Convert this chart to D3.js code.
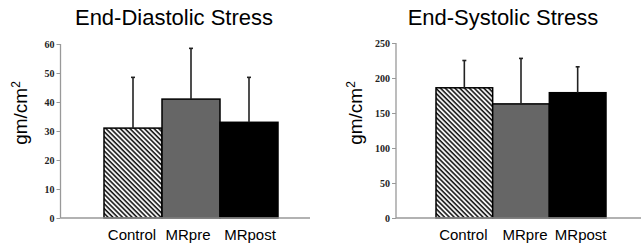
<!DOCTYPE html>
<html>
<head>
<meta charset="utf-8">
<script src="https://cdn.jsdelivr.net/npm/d3@7"></script>
<style>
  body { margin: 0; background: #fff; }
  svg { display: block; }
</style>
</head>
<body>
<div id="chart"></div>
<script>
// values
var groups = ["Control", "MRpre", "MRpost"];
var diastolicMean = [31, 41, 33];
var diastolicErr = [17.5, 17.5, 15.5];
var systolicMean = [186, 163, 179];
var systolicErr = [39, 65, 37];
var diastolicTicks = [0, 10, 20, 30, 40, 50, 60];
var systolicTicks = [0, 50, 100, 150, 200, 250];

var svg = d3.select("#chart").append("svg")
  .attr("width", 642)
  .attr("height", 249);

var defs = svg.append("defs");
defs.append("pattern")
  .attr("id", "hatch")
  .attr("patternUnits", "userSpaceOnUse")
  .attr("width", 3.4)
  .attr("height", 3.4)
  .attr("patternTransform", "rotate(-45)")
  .call(function (p) {
    p.append("rect").attr("width", 3.4).attr("height", 3.4).attr("fill", "#fff");
    p.append("line").attr("x1", 1).attr("y1", 0).attr("x2", 1).attr("y2", 3.4)
      .attr("stroke", "#111").attr("stroke-width", 1.6);
  });

var fills = ["url(#hatch)", "#666", "#000"];

function panel(opt) {
  var g = svg.append("g");

  var y = d3.scaleLinear().domain(opt.domain).range([218, opt.top]);
  var x = d3.scaleBand().domain(groups).range(opt.bars).padding(0);

  // title
  g.append("text")
    .attr("x", opt.titleX).attr("y", 25)
    .attr("text-anchor", "middle")
    .style("font-family", "Liberation Sans, Arial, sans-serif")
    .style("font-size", "22px")
    .text(opt.title);

  // y label
  var yl = g.append("text")
    .attr("transform", "translate(" + opt.labelX + ",113) rotate(-90)")
    .attr("text-anchor", "middle")
    .style("font-family", "Liberation Sans, Arial, sans-serif")
    .style("font-size", "19px");
  yl.append("tspan").text("gm/cm");
  yl.append("tspan").attr("dy", -7).style("font-size", "12px").text("2");

  // y axis
  var yAxis = g.append("g")
    .attr("transform", "translate(" + opt.axisX + ",0)")
    .call(d3.axisLeft(y).tickValues(opt.ticks).tickSize(4).tickPadding(2));
  yAxis.select(".domain").attr("stroke", "#999").attr("stroke-width", 1.3)
    .attr("d", "M0," + y(0) + "V" + y(opt.domain[1]));
  yAxis.selectAll(".tick line").attr("stroke", "#999");
  yAxis.selectAll(".tick text")
    .style("font-family", "Liberation Serif, Times New Roman, serif")
    .style("font-size", "10px")
    .style("font-weight", "bold")
    .attr("fill", "#222");

  // bars
  g.selectAll("rect.bar")
    .data(opt.mean)
    .enter().append("rect")
    .attr("class", "bar")
    .attr("x", function (d, i) { return x(groups[i]); })
    .attr("y", function (d) { return y(d); })
    .attr("width", x.bandwidth())
    .attr("height", function (d) { return y(0) - y(d); })
    .attr("fill", function (d, i) { return fills[i]; })
    .attr("stroke", "#000")
    .attr("stroke-width", 1.5);

  // error bars (upper only)
  var err = g.selectAll("g.err")
    .data(opt.mean)
    .enter().append("g")
    .attr("class", "err");
  err.append("line")
    .attr("x1", function (d, i) { return x(groups[i]) + x.bandwidth() / 2; })
    .attr("x2", function (d, i) { return x(groups[i]) + x.bandwidth() / 2; })
    .attr("y1", function (d) { return y(d); })
    .attr("y2", function (d, i) { return y(d + opt.err[i]); })
    .attr("stroke", "#222").attr("stroke-width", 1.6);
  err.append("line")
    .attr("x1", function (d, i) { return x(groups[i]) + x.bandwidth() / 2 - 2; })
    .attr("x2", function (d, i) { return x(groups[i]) + x.bandwidth() / 2 + 2; })
    .attr("y1", function (d, i) { return y(d + opt.err[i]); })
    .attr("y2", function (d, i) { return y(d + opt.err[i]); })
    .attr("stroke", "#222").attr("stroke-width", 1.6);

  // x axis line
  g.append("line")
    .attr("x1", opt.axisX).attr("x2", opt.xEnd)
    .attr("y1", y(0)).attr("y2", y(0))
    .attr("stroke", "#999").attr("stroke-width", 1.3);

  // category labels
  g.selectAll("text.cat")
    .data(groups)
    .enter().append("text")
    .attr("class", "cat")
    .attr("x", function (d, i) { return x(d) + x.bandwidth() / 2 + opt.catShift[i]; })
    .attr("y", 240)
    .attr("text-anchor", "middle")
    .style("font-family", "Liberation Sans, Arial, sans-serif")
    .style("font-size", "15px")
    .text(function (d) { return d; });
}

panel({
  title: "End-Diastolic Stress", titleX: 174,
  labelX: 27, axisX: 60.5, xEnd: 310, top: 44,
  domain: [0, 60], ticks: diastolicTicks,
  bars: [104, 278], mean: diastolicMean, err: diastolicErr,
  catShift: [-1, -3, 1]
});

panel({
  title: "End-Systolic Stress", titleX: 503,
  labelX: 362, axisX: 396, xEnd: 641, top: 43,
  domain: [0, 250], ticks: systolicTicks,
  bars: [436, 606], mean: systolicMean, err: systolicErr,
  catShift: [-1, 4, 3]
});
</script>
</body>
</html>
